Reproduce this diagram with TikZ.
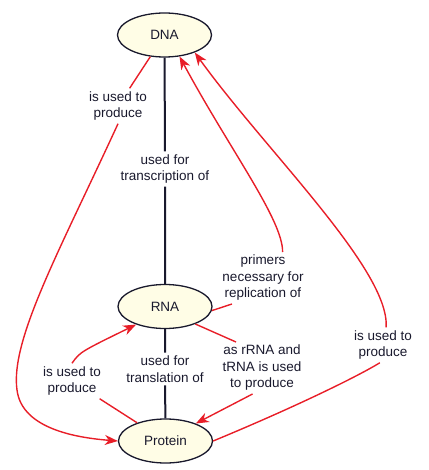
\documentclass[tikz,border=0pt]{standalone}
\usepackage{fontspec}
\setmainfont{Liberation Sans}
\usetikzlibrary{arrows.meta,shapes.geometric}
\definecolor{conceptfill}{RGB}{255,253,230}
\definecolor{linkred}{RGB}{232,30,40}
\definecolor{inkdark}{RGB}{25,25,45}

\begin{document}
\begin{tikzpicture}[x=1pt,y=-1pt,
    concept/.style={ellipse, draw=inkdark, line width=1.3pt, fill=conceptfill,
        minimum width=94pt, minimum height=44pt, inner sep=0pt,
        font=\fontsize{13.5}{16.5}\selectfont, text=inkdark},
    linkword/.style={align=center, inner sep=3pt,
        font=\fontsize{13.5}{16.5}\selectfont, text=inkdark},
    redlink/.style={linkred, line width=1.4pt},
    redarrow/.style={redlink, -{Stealth[length=13pt,width=10pt,inset=4pt]}},
    blacklink/.style={inkdark, line width=2pt}]
    \useasboundingbox (0,0) rectangle (428,470);

    % Concepts
    \node[concept] (dna) at (164.5,35) {DNA};
    \node[concept] (rna) at (165,306.5) {RNA};
    \node[concept] (prot) at (165.5,441) {Protein};

    % Linking words
    \node[linkword] (ltrans) at (165,169) {used for\\transcription of};
    \node[linkword] (ltransl) at (165,369) {used for\\translation of};
    \node[linkword] (ldnaprot) at (118,106) {is used to\\produce};
    \node[linkword] (lprotrna) at (72,381) {is used to\\produce};
    \node[linkword] (lprimer) at (263,278) {primers\\necessary for\\replication of};
    \node[linkword] (lrrna) at (262,368) {as rRNA and\\tRNA is used\\to produce};
    \node[linkword] (lprotdna) at (383,345) {is used to\\produce};

    % Black links down the middle
    \draw[blacklink] (dna) -- (ltrans) -- (rna);
    \draw[blacklink] (rna) -- (ltransl) -- (prot);

    % DNA is used to produce protein
    \draw[redlink] (dna) -- (ldnaprot);
    \draw[redarrow] (ldnaprot.south) .. controls (60,250) and (10,340) .. (17,390)
        .. controls (22,430) and (80,438) .. (prot.west);

    % protein is used to produce RNA
    \draw[redlink] (prot) -- (lprotrna);
    \draw[redarrow] (lprotrna.north) .. controls (80,352) .. (rna.-148);

    % RNA primers for replication of DNA
    \draw[redlink] (rna.-5) -- (lprimer.-140);
    \draw[redarrow] (lprimer.53) .. controls (283,220) and (230,150) .. (dna.-55);

    % rRNA and tRNA used to produce protein
    \draw[redlink] (rna.-30) -- (lrrna.135);
    \draw[redarrow] (lrrna.-110) -- (prot.30);

    % protein is used to produce DNA
    \draw[redlink] (prot.east) .. controls (300,405) and (360,375) .. (lprotdna.-100);
    \draw[redarrow] (lprotdna.80) .. controls (390,270) and (265,150) .. (dna.-30);
\end{tikzpicture}
\end{document}
